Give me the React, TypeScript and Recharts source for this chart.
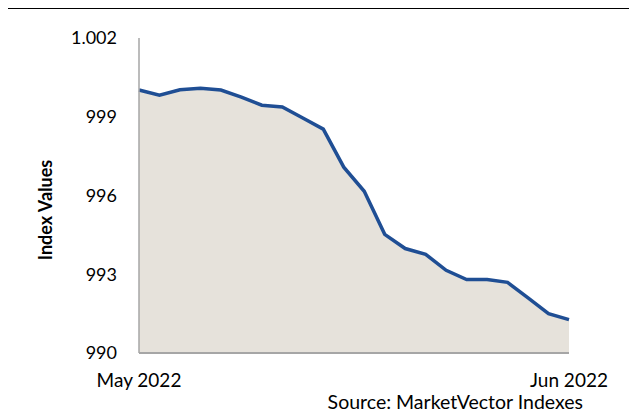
import React from 'react';
import { AreaChart, Area, XAxis, YAxis, Label, Customized } from 'recharts';

const dates = [
  '2022-05-02', '2022-05-03', '2022-05-04', '2022-05-05', '2022-05-06',
  '2022-05-09', '2022-05-10', '2022-05-11', '2022-05-12', '2022-05-13',
  '2022-05-16', '2022-05-17', '2022-05-18', '2022-05-19', '2022-05-20',
  '2022-05-23', '2022-05-24', '2022-05-25', '2022-05-26', '2022-05-27',
  '2022-05-31', '2022-06-01',
];

const indexValues = [
  1000.02, 999.82, 1000.03, 1000.09, 1000.02, 999.75, 999.44, 999.37,
  998.95, 998.53, 997.08, 996.16, 994.52, 993.98, 993.76, 993.15,
  992.8, 992.8, 992.69, 992.1, 991.5, 991.27,
];

const yTicks = [990, 993, 996, 999, 1002];
const yTickLabels = ['990', '993', '996', '999', '1.002'];

const xTicks = [dates[0], dates[dates.length - 1]];
const xTickLabels = ['May 2022', 'Jun 2022'];

const data = dates.map((d, i) => ({ date: d, value: indexValues[i] }));

const FONT = 'Lato, "Open Sans", sans-serif';

export default function App() {
  return (
    <div style={{ position: 'relative', width: 621, height: 401 }}>
      <div style={{ position: 'absolute', left: -8, top: -8, width: 637, height: 417, background: '#fff' }}>
        <div style={{ position: 'absolute', left: 0, top: 0 }}>
          <AreaChart
            width={637}
            height={417}
            data={data}
            margin={{ top: 38, right: 68, left: 0, bottom: 34 }}
          >
            <XAxis
              dataKey="date"
              ticks={xTicks}
              interval={0}
              tickFormatter={(v: string) => xTickLabels[xTicks.indexOf(v)] ?? ''}
              tickLine={false}
              tickSize={0}
              tickMargin={21}
              height={30}
              axisLine={{ stroke: '#a6a6a6', strokeWidth: 2 }}
              tick={{ fill: '#000', fontSize: 19, fontFamily: FONT }}
            />
            <YAxis
              domain={[990, 1002]}
              ticks={yTicks}
              interval={0}
              tickFormatter={(v: number) => yTickLabels[yTicks.indexOf(v)] ?? String(v)}
              tickLine={false}
              tickSize={0}
              tickMargin={22}
              width={139}
              axisLine={{ stroke: '#a6a6a6', strokeWidth: 1.5 }}
              tick={{ fill: '#000', fontSize: 18, fontFamily: FONT }}
            >
              <Label
                content={() => (
                  <text
                    x={45}
                    y={210}
                    transform="rotate(-90 45 210)"
                    textAnchor="middle"
                    dominantBaseline="central"
                    style={{ fontFamily: FONT, fontSize: 18, fontWeight: 700, fill: '#000' }}
                  >
                    Index Values
                  </text>
                )}
              />
            </YAxis>
            <Area
              type="linear"
              dataKey="value"
              stroke="#1f4e94"
              strokeWidth={3.5}
              fill="#e6e2db"
              fillOpacity={1}
              dot={false}
              activeDot={false}
              isAnimationActive={false}
            />
            <Customized
              component={() => (
                <g>
                  <rect x={3} y={7} width={2} height={410} fill="#000" />
                  <rect x={3} y={7} width={634} height={2} fill="#000" />
                  <text
                    x={583}
                    y={409}
                    textAnchor="end"
                    style={{ fontFamily: FONT, fontSize: 19.5, fill: '#000' }}
                  >
                    Source: MarketVector Indexes
                  </text>
                </g>
              )}
            />
          </AreaChart>
        </div>
      </div>
    </div>
  );
}
